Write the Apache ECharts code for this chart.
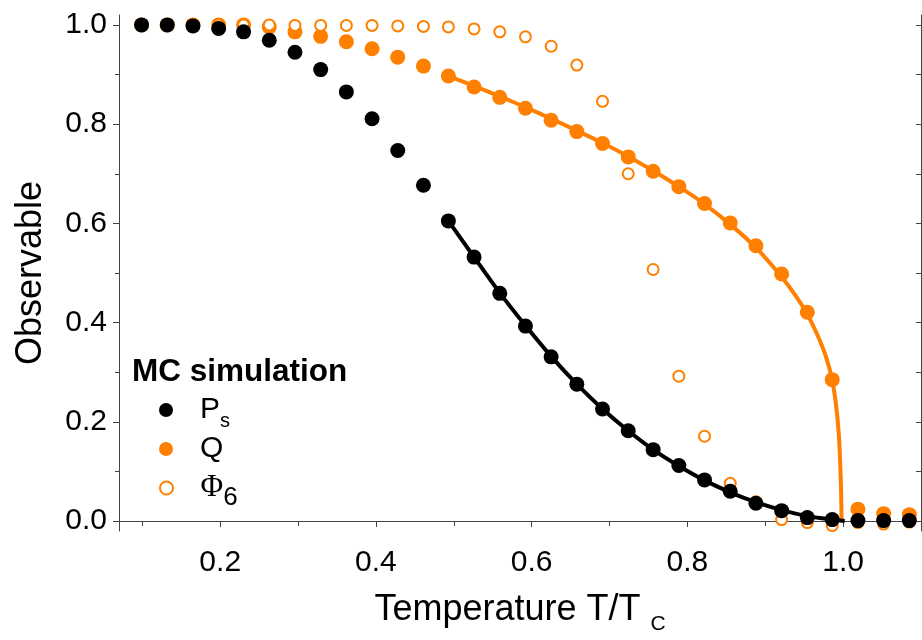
<!DOCTYPE html>
<html lang="en">
<head>
    <meta charset="UTF-8">
    <title>MC simulation observables</title>
    <script src="https://cdn.jsdelivr.net/npm/echarts@6/dist/echarts.min.js"></script>
    <style>
        body {
            margin: 0;
            background: #fff;
        }
        #main {
            width: 922px;
            height: 640px;
        }
    </style>
</head>
<body>
<div id="main"></div>

<script>
    // reduced temperature of each MC point
    var temps = [0.099, 0.132, 0.165, 0.198, 0.230, 0.263, 0.296, 0.329, 0.362, 0.395, 0.428,
        0.461, 0.493, 0.526, 0.559, 0.592, 0.625, 0.658, 0.691, 0.724, 0.756, 0.789,
        0.822, 0.855, 0.888, 0.921, 0.954, 0.986, 1.019, 1.052, 1.085];

    var psValues = [1.000, 1.000, 0.998, 0.993, 0.986, 0.969, 0.945, 0.910, 0.865, 0.811, 0.747,
        0.677, 0.605, 0.532, 0.459, 0.393, 0.331, 0.276, 0.226, 0.182, 0.144, 0.112,
        0.083, 0.060, 0.036, 0.021, 0.007, 0.003, 0.001, 0.001, 0.001];

    var qValues = [1.000, 1.000, 1.000, 1.000, 1.000, 0.996, 0.986, 0.977, 0.966, 0.952, 0.935,
        0.917, 0.897, 0.875, 0.854, 0.832, 0.808, 0.785, 0.761, 0.734, 0.705, 0.674,
        0.640, 0.601, 0.555, 0.498, 0.421, 0.285, 0.024, 0.015, 0.013];

    var phiValues = [1.000, 1.000, 1.000, 1.000, 1.000, 1.000, 0.999, 0.999, 0.999, 0.999, 0.998,
        0.997, 0.996, 0.992, 0.986, 0.976, 0.957, 0.919, 0.846, 0.700, 0.507, 0.292,
        0.171, 0.076, 0.039, 0.003, -0.003, -0.009, -0.003, -0.006, -0.002];

    // fit curves
    var fitQT = [0.493, 0.526, 0.559, 0.592, 0.625, 0.658, 0.691, 0.724, 0.756, 0.789, 0.822,
        0.855, 0.888, 0.921, 0.940, 0.954, 0.967, 0.978, 0.986, 0.9915, 0.9945, 0.996, 0.9974, 0.998];
    var fitQY = [0.897, 0.877, 0.856, 0.834, 0.811, 0.787, 0.762, 0.735, 0.706, 0.674, 0.639,
        0.598, 0.551, 0.492, 0.452, 0.417, 0.375, 0.331, 0.284, 0.226, 0.173, 0.126, 0.059, 0.000];

    var fitPsT = [0.493, 0.526, 0.559, 0.592, 0.625, 0.658, 0.691, 0.724, 0.756, 0.789, 0.822,
        0.855, 0.888, 0.921, 0.954, 0.986, 1.002];
    var fitPsY = [0.605, 0.532, 0.460, 0.394, 0.332, 0.276, 0.226, 0.182, 0.144, 0.111, 0.082,
        0.058, 0.038, 0.022, 0.010, 0.003, 0.000];

    // tick values
    var xMajor = [0.2, 0.4, 0.6, 0.8, 1.0];
    var xMinor = [0.1, 0.3, 0.5, 0.7, 0.9, 1.1];
    var xAll = [0.1, 0.2, 0.3, 0.4, 0.5, 0.6, 0.7, 0.8, 0.9, 1.0, 1.1];
    var yMajor = [0.0, 0.2, 0.4, 0.6, 0.8, 1.0];
    var yMinor = [0.1, 0.3, 0.5, 0.7, 0.9];
    var yAll = [0.0, 0.1, 0.2, 0.3, 0.4, 0.5, 0.6, 0.7, 0.8, 0.9, 1.0];

    var orange = '#ff8000';
    var axisColor = '#444';
    var font = '"Liberation Sans", Arial, sans-serif';

    function pairs(xs, ys) {
        return xs.map(function (x, i) { return [x, ys[i]]; });
    }

    var chart = echarts.init(document.getElementById('main'));

    var xBase = { type: 'value', min: 0.07, max: 1.10, splitLine: { show: false } };
    var yBase = { type: 'value', min: -0.02, max: 1.02, splitLine: { show: false } };

    chart.setOption({
        animation: false,
        backgroundColor: '#fff',
        grid: { left: 119, right: 1, top: 15, bottom: 107 },
        title: {
            text: 'MC simulation',
            left: 132,
            top: 356,
            padding: 0,
            textStyle: { fontSize: 31.5, fontWeight: 'bold', color: '#000', fontFamily: font }
        },
        legend: [
            {
                data: ['Ps'], orient: 'vertical', left: 154, top: 384,
                itemWidth: 58, itemHeight: 14,
                formatter: function () { return 'P{s|s}'; },
                textStyle: {
                    fontSize: 30, lineHeight: 30, color: '#000', fontFamily: font,
                    rich: { s: { fontSize: 20, lineHeight: 20, padding: [22, 0, 0, 0], fontFamily: font } }
                }
            },
            {
                data: ['Q'], orient: 'vertical', left: 154, top: 429,
                itemWidth: 58, itemHeight: 14,
                textStyle: { fontSize: 30, lineHeight: 30, color: '#000', fontFamily: font }
            },
            {
                data: ['Phi6'], orient: 'vertical', left: 154, top: 460,
                itemWidth: 58, itemHeight: 13,
                formatter: function () { return '{phi|Φ}{sub|6}'; },
                textStyle: {
                    fontSize: 30, lineHeight: 30, color: '#000', fontFamily: font,
                    rich: {
                        phi: { fontSize: 31, lineHeight: 31, fontFamily: '"Liberation Serif", "DejaVu Serif", serif' },
                        sub: { fontSize: 26, lineHeight: 26, padding: [20, 0, 0, 0], fontFamily: font }
                    }
                }
            }
        ],
        xAxis: [
            Object.assign({}, xBase, {
                position: 'bottom',
                axisLine: { show: true, lineStyle: { color: axisColor, width: 1 } },
                axisTick: { show: true, length: 6, customValues: xMajor, lineStyle: { color: axisColor } },
                axisLabel: {
                    customValues: xMajor, margin: 17, fontSize: 30, color: '#000', fontFamily: font,
                    formatter: function (v) { return v.toFixed(1); }
                },
                name: 'Temperature T/T {sub|C}',
                nameLocation: 'middle',
                nameGap: 61,
                nameTextStyle: {
                    fontSize: 36, lineHeight: 36, color: '#000', fontFamily: font,
                    rich: { sub: { fontSize: 21, lineHeight: 21, padding: [29, 0, 0, 0], fontFamily: font } }
                }
            }),
            Object.assign({}, xBase, {
                position: 'bottom',
                axisLine: { show: false },
                axisTick: { show: true, length: 4, customValues: xMinor, lineStyle: { color: axisColor } },
                axisLabel: { show: false }
            }),
            Object.assign({}, xBase, {
                position: 'top',
                axisLine: { show: true, lineStyle: { color: axisColor, width: 1 } },
                axisTick: { show: true, inside: true, length: 5, customValues: xAll, lineStyle: { color: axisColor } },
                axisLabel: { show: false }
            })
        ],
        yAxis: [
            Object.assign({}, yBase, {
                position: 'left',
                axisLine: { show: true, lineStyle: { color: axisColor, width: 1 } },
                axisTick: { show: true, length: 6, customValues: yMajor, lineStyle: { color: axisColor } },
                axisLabel: {
                    customValues: yMajor, margin: 12, fontSize: 30, color: '#000', fontFamily: font,
                    formatter: function (v) { return v.toFixed(1); }
                },
                name: 'Observable',
                nameLocation: 'middle',
                nameGap: 70,
                nameTextStyle: { fontSize: 36, color: '#000', fontFamily: font }
            }),
            Object.assign({}, yBase, {
                position: 'left',
                axisLine: { show: false },
                axisTick: { show: true, length: 4, customValues: yMinor, lineStyle: { color: axisColor } },
                axisLabel: { show: false }
            }),
            Object.assign({}, yBase, {
                position: 'right',
                axisLine: { show: true, lineStyle: { color: axisColor, width: 1 } },
                axisTick: { show: true, inside: true, length: 5, customValues: yAll, lineStyle: { color: axisColor } },
                axisLabel: { show: false }
            })
        ],
        series: [
            {
                name: 'Q',
                type: 'scatter',
                symbol: 'circle',
                symbolSize: 15,
                itemStyle: { color: orange, opacity: 1 },
                data: pairs(temps, qValues)
            },
            {
                name: 'Q fit',
                type: 'line',
                showSymbol: false,
                symbol: 'none',
                smooth: 0.3,
                lineStyle: { color: orange, width: 4 },
                data: pairs(fitQT, fitQY)
            },
            {
                name: 'Phi6',
                type: 'scatter',
                symbol: 'emptyCircle',
                symbolSize: 11,
                itemStyle: { color: orange, borderColor: orange, borderWidth: 2.5, opacity: 1 },
                data: pairs(temps, phiValues)
            },
            {
                name: 'Ps fit',
                type: 'line',
                showSymbol: false,
                symbol: 'none',
                smooth: 0.3,
                lineStyle: { color: '#000', width: 4 },
                data: pairs(fitPsT, fitPsY)
            },
            {
                name: 'Ps',
                type: 'scatter',
                symbol: 'circle',
                symbolSize: 15,
                itemStyle: { color: '#000', opacity: 1 },
                data: pairs(temps, psValues)
            }
        ]
    });
</script>
</body>
</html>
